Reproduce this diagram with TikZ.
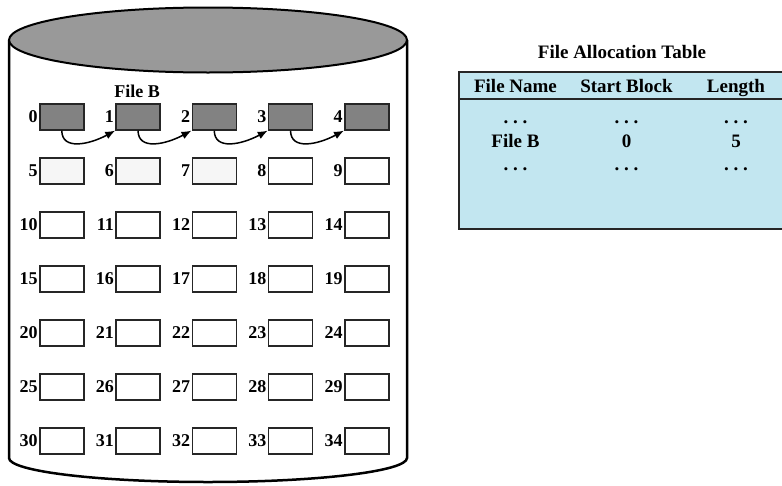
\documentclass[tikz,border=0pt]{standalone}
\usepackage{fontspec}
\setmainfont{Liberation Serif}
\usetikzlibrary{arrows.meta}
\definecolor{topgray}{RGB}{153,153,153}
\definecolor{blkgray}{RGB}{130,130,130}
\definecolor{ltgray}{RGB}{246,246,246}
\definecolor{fatblue}{RGB}{194,230,240}
\begin{document}
\begin{tikzpicture}[x=1pt,y=-1pt,
  blk/.style={draw=black!85, line width=1.6pt, minimum width=44pt, minimum height=26pt, inner sep=0pt, anchor=north west, fill=white},
  used/.style={fill=blkgray},
  light/.style={fill=ltgray},
  num/.style={font=\bfseries\fontsize{18}{21}\selectfont, anchor=east, inner sep=1.2pt},
  lnk/.style={line width=1.5pt, -{Latex[length=10pt,width=8pt]}},
  tbl/.style={font=\bfseries\fontsize{19}{22}\selectfont, anchor=base, inner sep=0pt},
]
\useasboundingbox (0,0) rectangle (782,485);
% cylinder
\draw[line width=2.5pt, fill=white] (9,40) -- (9,458) .. controls (9,471.2) and (98.2,482) .. (208,482) .. controls (317.8,482) and (407,471.2) .. (407,458) -- (407,40);
\draw[line width=2pt, fill=topgray] (208,40) ellipse [x radius=199pt, y radius=32.5pt];
% blocks
\foreach \r in {0,...,6} {
  \foreach \c in {0,...,4} {
    \pgfmathtruncatemacro\n{\r*5+\c}
    \ifnum\n<5 \def\bs{used}\else\ifnum\n<8 \def\bs{light}\else\def\bs{}\fi\fi
    \node[blk,\bs] (b\n) at ({39+76.25*\c},{103+54*\r}) {};
    \node[num] (l\n) at (b\n.west) {\n};
  }
}
\node[font=\bfseries\fontsize{18}{21}\selectfont, inner sep=0pt] (fileb) at (137,91) {File B};
\foreach \i [evaluate=\i as \j using int(\i+1)] in {0,...,3}
  \draw[lnk] (b\i.south) .. controls +(0,20) and +(-26,14) .. (b\j.south west);
% table
\node[tbl] (title) at (622,58) {File Allocation Table};
\node[draw=black!85, line width=1.8pt, fill=fatblue, anchor=north west, minimum width=340pt, minimum height=157pt, inner sep=0pt] (fat) at (458,71) {};
\coordinate (hl) at (458,99);
\coordinate (hr) at (800,99);
\draw[line width=1.8pt, black!85] (hl) -- (hr);
\node[tbl] (h1) at (515.5,92) {File Name};
\node[tbl] (h2) at (626.5,92) {Start Block};
\node[tbl] (h3) at (736,92) {Length};
\node[tbl] (d11) at (515.5,123) {.\ .\ .};
\node[tbl] (d12) at (626.5,123) {.\ .\ .};
\node[tbl] (d13) at (736,123) {.\ .\ .};
\node[tbl] (r1) at (515.5,147) {File B};
\node[tbl] (r2) at (626.5,147) {0};
\node[tbl] (r3) at (736,147) {5};
\node[tbl] (d31) at (515.5,170) {.\ .\ .};
\node[tbl] (d32) at (626.5,170) {.\ .\ .};
\node[tbl] (d33) at (736,170) {.\ .\ .};
\end{tikzpicture}
\end{document}
